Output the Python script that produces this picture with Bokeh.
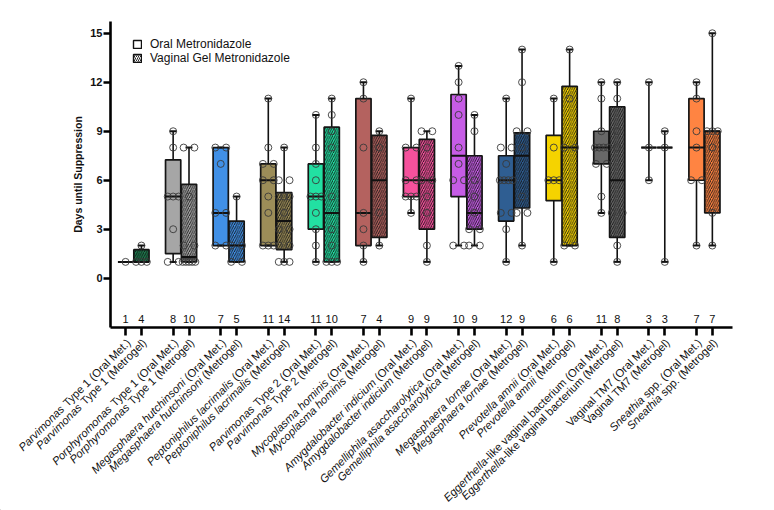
import math
from bokeh.plotting import figure
from bokeh.models import ColumnDataSource, Range1d, FixedTicker, Legend, LegendItem
from bokeh.embed import file_html
from bokeh.resources import INLINE
from bokeh.core.properties import value

# ---------------- data ----------------
groups = ["Parvimonas Type 1", "Porphyromonas Type 1", "Megasphaera hutchinsoni",
          "Peptoniphilus lacrimalis", "Parvimonas Type 2", "Mycoplasma hominis",
          "Amygdalobacter indicium", "Gemelliphila asaccharolytica", "Megasphaera lornae",
          "Prevotella amnii", "Eggerthella-like vaginal bacterium", "Vaginal TM7", "Sneathia spp."]
italic_parts = ["Parvimonas", "Porphyromonas", "Megasphaera hutchinsoni",
                "Peptoniphilus lacrimalis", "Parvimonas", "Mycoplasma hominis",
                "Amygdalobacter indicium", "Gemelliphila asaccharolytica", "Megasphaera lornae",
                "Prevotella amnii", "Eggerthella", "", "Sneathia"]
treatments = [" (Oral Met.)", " (Metrogel)"]
group_colors = ["#1c7c4e", "#a6a6a6", "#4190e6", "#9c8d58", "#22e0a2", "#b4625f",
                "#f5519c", "#c65ce6", "#2f5e92", "#f5d300", "#686868", "#8c8c8c", "#ff8442"]

n_counts = [1, 4, 8, 10, 7, 5, 11, 14, 11, 10, 7, 4, 9, 9, 10, 9, 12, 9, 6, 6, 11, 8, 3, 3, 7, 7]
lo  = [1, 1, 1, 1, 2, 1, 2, 1, 1, 1, 1, 2, 4, 1, 2, 2, 1, 2, 1, 2, 4, 1, 6, 1, 2, 2]
q1  = [1, 1, 1.5, 1, 2, 1, 2, 1.75, 3, 1, 2, 2.5, 5, 3, 5, 3, 3.5, 4.3, 4.75, 2, 7, 2.5, 8, 8, 6, 4]
med = [1, 1, 5, 1.3, 4, 2, 6, 3.5, 5, 4, 4, 6, 6, 6, 7.5, 4, 6, 7.5, 6, 8, 8, 6, 8, 8, 8, 9]
q3  = [1, 1.75, 7.25, 5.75, 8, 3.5, 7, 5.25, 7, 9.25, 11, 8.75, 8, 8.5, 11.25, 7.5, 7.5, 8.9,
       8.75, 11.75, 9, 10.5, 8, 8, 11, 9]
hi  = [1, 2, 9, 8, 8, 5, 11, 8, 10, 11, 12, 9, 11, 9, 13, 10, 11, 14, 11, 14, 12, 12, 12, 9, 12, 15]
points = [
    [1], [1, 1, 1, 2],
    [1, 1, 3, 5, 5, 5, 8, 9], [1, 1, 1, 1, 1, 2, 2, 5, 8, 8],
    [2, 2, 4, 4, 7, 8, 8], [1, 1, 2, 2, 5],
    [2, 2, 2, 4, 5, 6, 6, 7, 7, 8, 11], [1, 1, 1, 2, 2, 3, 3, 4, 5, 5, 5, 6, 6, 8],
    [1, 2, 3, 4, 5, 5, 5, 6, 7, 8, 10], [1, 1, 1, 2, 3, 5, 8, 9, 10, 11],
    [1, 2, 3, 4, 8, 11, 12], [2, 4, 8, 9],
    [4, 5, 5, 5, 6, 6, 8, 8, 11], [1, 2, 4, 5, 6, 6, 8, 9, 9],
    [2, 2, 6, 6, 7, 8, 10, 11, 12, 13], [2, 2, 3, 3, 4, 5, 6, 9, 10],
    [1, 3, 4, 4, 6, 6, 6, 6, 7, 8, 8, 11], [2, 4, 4, 5, 8, 9, 9, 12, 14],
    [1, 6, 6, 6, 8, 11], [2, 2, 8, 8, 11, 14],
    [4, 5, 7, 7, 8, 8, 8, 8, 9, 11, 12], [1, 2, 4, 4, 8, 9, 11, 12],
    [6, 8, 12], [1, 8, 9],
    [2, 6, 6, 8, 9, 11, 12], [2, 4, 8, 9, 9, 9, 15],
]
y_ticks = [0, 3, 6, 9, 12, 15]

# ---------------- layout ----------------
N = len(n_counts)
pos = [3 * (k // 2) + (k % 2) for k in range(N)]
fills = [group_colors[k // 2] for k in range(N)]
hatches = [" " if k % 2 == 0 else "/" for k in range(N)]

FONT = "Liberation Sans"
W_TOTAL, H_TOTAL = 766, 510
AX_L, AX_R, AX_T, AX_B = 110, 732, 21, 326.7      # axis box in pixels
X0, X1 = -0.95, 38.27                              # x extent of the axes
Y0, Y1 = -3, 15.72                                 # y extent of the axes
ppx = (AX_R - AX_L) / (X1 - X0)
ppy = (AX_B - AX_T) / (Y1 - Y0)

p = figure(width=W_TOTAL, height=H_TOTAL, output_backend="svg", toolbar_location=None,
           x_range=Range1d(X0 - AX_L / ppx, X1 + (W_TOTAL - AX_R) / ppx),
           y_range=Range1d(Y0 - (H_TOTAL - AX_B) / ppy, Y1 + AX_T / ppy),
           min_border=0)
p.outline_line_color = None
p.grid.visible = False
p.background_fill_color = "white"

# whiskers
p.segment(x0=pos, x1=pos, y0=lo, y1=hi, line_color="#111111", line_width=1.6)

# boxes
box_src = ColumnDataSource(dict(x=pos, top=q3, bottom=q1, fill=fills, hatch=hatches))
p.vbar(x="x", top="top", bottom="bottom", width=0.96, source=box_src,
       fill_color="fill", line_color="#151515", line_width=1.7,
       hatch_pattern="hatch", hatch_color="#111111", hatch_scale=4.5, hatch_weight=0.9)

# medians
p.segment(x0=[x - 0.48 for x in pos], x1=[x + 0.48 for x in pos], y0=med, y1=med,
          line_color="#111111", line_width=2)

# caps
p.scatter(x=pos + pos, y=lo + hi, marker="dash", size=7, line_color="#111111", line_width=2)

# points (duplicates spread horizontally)
px, py = [], []
for k in range(N):
    seen = {}
    for v in points[k]:
        seen[v] = seen.get(v, 0) + 1
    for v, c in seen.items():
        if c == 1:
            offs = [0.0]
        else:
            s = 0.34 if c <= 3 else 0.4
            offs = [-s + 2 * s * i / (c - 1) for i in range(c)]
        for o in offs:
            px.append(pos[k] + o)
            py.append(v)
p.scatter(x=px, y=py, marker="circle", size=7, fill_alpha=0, line_color="#3a3a3a", line_width=0.9)

# n labels
p.text(x=pos, y=[-2.5] * N, text=[str(n) for n in n_counts], text_align="center",
       text_baseline="middle", text_font=value(FONT), text_font_size="11px", text_color="#111111")

# axes, pinned at the data edges
p.yaxis.fixed_location = X0
p.yaxis.bounds = (Y0, Y1)
p.yaxis.ticker = FixedTicker(ticks=y_ticks)
p.yaxis.minor_tick_line_color = None
p.yaxis.axis_line_width = 2.6
p.yaxis.major_tick_line_width = 2.6
p.yaxis.major_tick_out = 7
p.yaxis.major_tick_in = 0
p.yaxis.major_label_text_font = FONT
p.yaxis.major_label_text_font_style = "bold"
p.yaxis.major_label_text_font_size = "11px"
p.yaxis.major_label_text_color = "#111111"
p.yaxis.major_label_standoff = 1
p.yaxis.axis_label = "Days until Suppression"
p.yaxis.axis_label_text_font = FONT
p.yaxis.axis_label_text_font_style = "bold"
p.yaxis.axis_label_text_font_size = "10.5px"
p.yaxis.axis_label_text_color = "#111111"
p.yaxis.axis_label_standoff = 3

p.xaxis.fixed_location = Y0
p.xaxis.bounds = (X0, X1)
p.xaxis.ticker = FixedTicker(ticks=pos)
p.xaxis.minor_tick_line_color = None
p.xaxis.axis_line_width = 2.6
p.xaxis.major_tick_line_width = 2.6
p.xaxis.major_tick_out = 8
p.xaxis.major_tick_in = 0
p.xaxis.major_label_standoff = 0
p.xaxis.major_label_overrides = {x: "" for x in pos}

# legend (dummy bars placed far outside the visible ranges)
r_oral = p.vbar(x=[-100], top=[-100], bottom=[-101], width=0.9, fill_color="white",
                line_color="#111111", line_width=1.4)
r_gel = p.vbar(x=[-100], top=[-100], bottom=[-101], width=0.9, fill_color="white",
               line_color="#111111", line_width=1.4,
               hatch_pattern="/", hatch_color="#111111", hatch_scale=4, hatch_weight=0.9)
legend = Legend(items=[LegendItem(label="Oral Metronidazole", renderers=[r_oral]),
                       LegendItem(label="Vaginal Gel Metronidazole", renderers=[r_gel])],
                location=(132, H_TOTAL - 65), glyph_width=10, glyph_height=10, label_height=12,
                label_standoff=8, spacing=0, padding=0, margin=0,
                label_text_font=FONT, label_text_font_size="12px", label_text_color="#111111",
                border_line_color=None, background_fill_alpha=0)
p.add_layout(legend)

# rotated category labels with italic species names (Arial/Liberation metrics)
W = {' ': 278, '(': 333, ')': 333, '-': 333, '.': 278, '0': 556, '1': 556, '2': 556, '3': 556,
     '4': 556, '5': 556, '6': 556, '7': 556, '8': 556, '9': 556,
     'A': 667, 'B': 667, 'C': 722, 'D': 722, 'E': 667, 'F': 611, 'G': 778, 'H': 722, 'I': 278,
     'J': 500, 'K': 667, 'L': 556, 'M': 833, 'N': 722, 'O': 778, 'P': 667, 'Q': 778, 'R': 722,
     'S': 667, 'T': 611, 'U': 722, 'V': 667, 'W': 944, 'X': 667, 'Y': 667, 'Z': 611,
     'a': 556, 'b': 556, 'c': 500, 'd': 556, 'e': 556, 'f': 278, 'g': 556, 'h': 556, 'i': 222,
     'j': 222, 'k': 500, 'l': 222, 'm': 833, 'n': 556, 'o': 556, 'p': 556, 'q': 556, 'r': 333,
     's': 500, 't': 278, 'u': 556, 'v': 500, 'w': 722, 'x': 500, 'y': 500, 'z': 500}
LFS = 11.2
ang = math.pi / 4
drop_px = 13.5     # label anchor below the x axis (pixels)
dx_px = 3.0        # label anchor right of the tick (pixels)
norm = dict(x=[], y=[], t=[])
ital = dict(x=[], y=[], t=[])
for k in range(N):
    g = k // 2
    full = groups[g] + treatments[k % 2]
    pre = italic_parts[g]
    rest = full[len(pre):]
    w = sum(W.get(ch, 556) for ch in rest) * LFS / 1000.0
    ax = pos[k] + dx_px / ppx
    ay = Y0 - drop_px / ppy
    norm["x"].append(ax); norm["y"].append(ay); norm["t"].append(rest.strip())
    if pre:
        ital["x"].append(ax - w * math.cos(ang) / ppx)
        ital["y"].append(ay - w * math.sin(ang) / ppy)
        ital["t"].append(pre)

p.text(x="x", y="y", text="t", source=ColumnDataSource(norm), angle=ang,
       text_align="right", text_baseline="middle", text_font=value(FONT),
       text_font_size=f"{LFS}px", text_color="#111111")
p.text(x="x", y="y", text="t", source=ColumnDataSource(ital), angle=ang,
       text_align="right", text_baseline="middle", text_font=value(FONT),
       text_font_style="italic", text_font_size=f"{LFS}px", text_color="#111111")

open("out.html", "w").write(file_html(p, INLINE))
